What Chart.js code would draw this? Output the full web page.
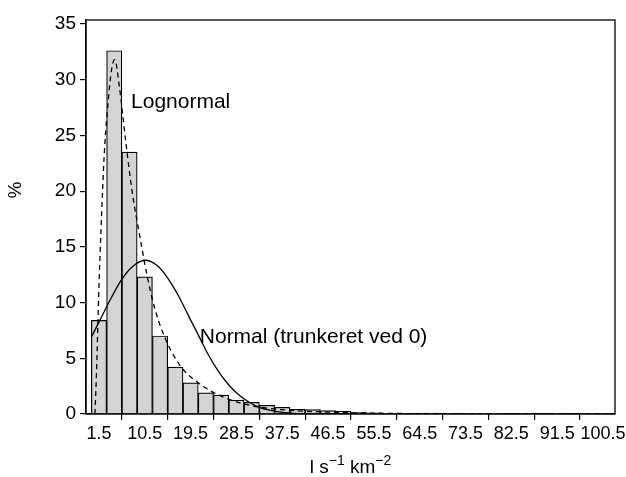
<!DOCTYPE html>
<html>
<head>
<meta charset="utf-8">
<script src="https://cdn.jsdelivr.net/npm/chart.js@4/dist/chart.umd.min.js"></script>
<style>
  body { margin: 0; background: #fff; }
  canvas { display: block; }
</style>
</head>
<body>
<canvas id="chart" width="626" height="477"></canvas>
<script>
// Histogram bins (class midpoints, width 3) and share of observations in %
const binCenters = [1.5, 4.5, 7.5, 10.5, 13.5, 16.5, 19.5, 22.5, 25.5, 28.5, 31.5, 34.5,
  37.5, 40.5, 43.5, 46.5, 49.5, 52.5, 55.5, 58.5, 61.5, 64.5, 67.5, 70.5, 73.5, 76.5,
  79.5, 82.5, 85.5, 88.5, 91.5, 94.5, 97.5, 100.5];
const binPercent = [8.4, 32.6, 23.5, 12.3, 7.0, 4.2, 2.8, 1.9, 1.7, 1.25, 1.05, 0.78,
  0.6, 0.42, 0.39, 0.3, 0.24, 0.15, 0.1, 0.06, 0.06, 0.08, 0.08, 0.06, 0.04, 0.02,
  0.01, 0, 0.03, 0.05, 0.02, 0, 0.02, 0.04];

// Fitted curves
const lognormalX = [0.7, 1.0, 1.45, 1.9, 2.5, 3.2, 4.0, 4.6, 5.5, 6.8, 8.0, 9.5, 11.0,
  12.5, 14.5, 17.5, 21, 25, 30, 35, 40, 50, 60, 80, 102];
const lognormalY = [0, 3.5, 10.8, 16.5, 23, 27.5, 31, 31.8, 29.4, 24.3, 20, 16, 12.3,
  9.4, 6.8, 4.3, 2.8, 1.7, 0.9, 0.5, 0.3, 0.12, 0.05, 0.01, 0];

const normalX = [0, 2, 4, 6, 8, 10.5, 13, 15, 17, 19, 21, 23, 25, 27, 29, 31, 33, 35, 38, 42, 50];
const normalY = [6.9, 8.7, 10.5, 12.1, 13.2, 13.8, 13.3, 12.2, 10.7, 8.9, 7.1, 5.3, 3.8,
  2.6, 1.7, 1.05, 0.6, 0.35, 0.13, 0.03, 0];

const xTicks = [1.5, 10.5, 19.5, 28.5, 37.5, 46.5, 55.5, 64.5, 73.5, 82.5, 91.5, 100.5];
const yTicks = [0, 5, 10, 15, 20, 25, 30, 35];

const labels = [
  { text: 'Lognormal', x: 7.8, y: 27.5 },
  { text: 'Normal (trunkeret ved 0)', x: 21.3, y: 6.4 }
];

const FONT = '"Liberation Sans", Arial, sans-serif';

// black frame round the plot area
const frame = {
  id: 'frame',
  afterDatasetsDraw(chart) {
    const { ctx, chartArea: a } = chart;
    ctx.save();
    ctx.strokeStyle = '#000';
    ctx.lineWidth = 1.3;
    ctx.strokeRect(a.left, a.top, a.right - a.left, a.bottom - a.top);
    ctx.restore();
  }
};

// curve names inside the plot, and the "%" axis title
const curveLabels = {
  id: 'curveLabels',
  afterDraw(chart) {
    const { ctx } = chart;
    const xs = chart.scales.x, ys = chart.scales.y;
    ctx.save();
    ctx.fillStyle = '#000';
    ctx.font = '21px ' + FONT;
    ctx.textBaseline = 'alphabetic';
    labels.forEach(l => {
      ctx.fillText(l.text, xs.getPixelForValue(l.x), ys.getPixelForValue(l.y));
    });
    // y title
    ctx.font = '19px ' + FONT;
    ctx.translate(16, 190);
    ctx.rotate(-Math.PI / 2);
    ctx.textAlign = 'center';
    ctx.textBaseline = 'middle';
    ctx.fillText('%', 0, 0);
    ctx.restore();
  }
};

// x axis title with superscripts: l s^-1 km^-2
const xTitle = {
  id: 'xTitle',
  afterDraw(chart) {
    const { ctx, chartArea: a } = chart;
    const parts = [
      { t: 'l s', sup: false }, { t: '\u22121', sup: true },
      { t: ' km', sup: false }, { t: '\u22122', sup: true }
    ];
    ctx.save();
    ctx.fillStyle = '#000';
    let total = 0;
    parts.forEach(p => {
      ctx.font = (p.sup ? '14px ' : '19px ') + FONT;
      p.w = ctx.measureText(p.t).width;
      total += p.w;
    });
    let x = (a.left + a.right) / 2 - total / 2;
    const base = 473;
    parts.forEach(p => {
      ctx.font = (p.sup ? '14px ' : '19px ') + FONT;
      ctx.fillText(p.t, x, p.sup ? base - 8 : base);
      x += p.w;
    });
    ctx.restore();
  }
};

new Chart(document.getElementById('chart'), {
  data: {
    datasets: [
      {
        type: 'line',
        label: 'Lognormal',
        data: lognormalX.map((x, i) => ({ x: x, y: lognormalY[i] })),
        borderColor: '#000',
        borderWidth: 1.3,
        borderDash: [5, 4],
        pointRadius: 0,
        cubicInterpolationMode: 'monotone',
        order: 0
      },
      {
        type: 'line',
        label: 'Normal',
        data: normalX.map((x, i) => ({ x: x, y: normalY[i] })),
        borderColor: '#000',
        borderWidth: 1.3,
        pointRadius: 0,
        cubicInterpolationMode: 'monotone',
        order: 0
      },
      {
        type: 'bar',
        label: 'Histogram',
        data: binCenters.map((x, i) => ({ x: x, y: binPercent[i] })),
        backgroundColor: '#d4d4d4',
        borderColor: '#000',
        borderWidth: 1.2,
        barPercentage: 1,
        categoryPercentage: 1,
        order: 1
      }
    ]
  },
  options: {
    responsive: false,
    animation: false,
    layout: { padding: { top: 20, right: 11, left: 0, bottom: 0 } },
    plugins: {
      legend: { display: false },
      tooltip: { enabled: false }
    },
    scales: {
      x: {
        type: 'linear',
        offset: false,
        min: -1.05,
        max: 102.86,
        afterBuildTicks: (scale) => { scale.ticks = xTicks.map(v => ({ value: v })); },
        afterFit: (scale) => {
          scale.height = 63;
          scale.paddingLeft = 0;
          scale.paddingRight = 0;
        },
        grid: { drawOnChartArea: false, tickLength: 6, color: '#000', lineWidth: 1.2 },
        border: { color: '#000', width: 1.3 },
        ticks: {
          color: '#000',
          padding: 3,
          maxRotation: 0,
          autoSkip: false,
          font: { family: FONT, size: 18 },
          callback: (v) => Number(v).toFixed(1)
        }
      },
      y: {
        min: 0,
        max: 35.36,
        afterBuildTicks: (scale) => { scale.ticks = yTicks.map(v => ({ value: v })); },
        afterFit: (scale) => {
          scale.width = 86;
          scale.paddingTop = 0;
          scale.paddingBottom = 0;
        },
        grid: { drawOnChartArea: false, tickLength: 6, color: '#000', lineWidth: 1.2 },
        border: { color: '#000', width: 1.3 },
        ticks: {
          color: '#000',
          padding: 4,
          font: { family: FONT, size: 19 }
        }
      }
    }
  },
  plugins: [frame, curveLabels, xTitle]
});
</script>
</body>
</html>
